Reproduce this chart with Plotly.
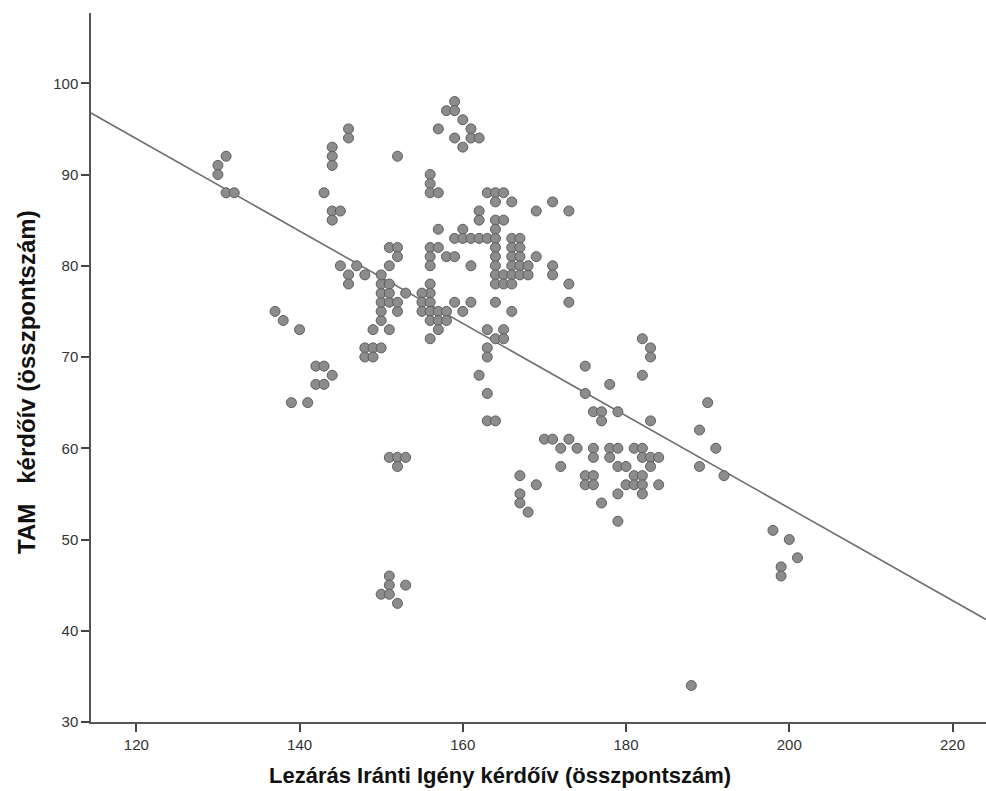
import plotly.graph_objects as go

# Data (x = Lezárás Iránti Igény, y = TAM)
x_vals = [
    130, 130, 131, 131, 132,
    137, 138, 140, 139, 141,
    142, 143, 144, 142, 143,
    143, 144, 145, 144,
    144, 144, 144, 146, 146,
    145, 147, 146, 148, 146,
    148, 149, 150, 148, 149,
    149, 151, 150,
    150, 152, 150, 151, 152, 150, 151, 153, 150, 151, 150, 151, 151, 152, 152,
    152,
    151, 152, 153, 152,
    151, 151, 150, 151, 153, 152,
    157, 159, 158, 159, 160, 161, 159, 161, 162, 160,
    156, 156, 156, 157,
    157, 160, 159, 160, 161, 162, 163,
    156, 157, 158, 159, 156, 156, 161,
    156, 156, 155, 155, 156, 155, 156, 157, 158, 156, 157, 158, 157, 156,
    159, 160, 161,
    163, 164, 165, 164, 166, 162, 162, 164, 165, 164,
    164, 166, 167, 164, 166, 167, 164, 166, 167, 164, 166, 167,
    164, 165, 166, 167, 168, 164, 165, 166,
    169, 168, 171, 171, 173, 173, 169, 171, 173,
    164, 166,
    163, 165, 164, 165, 163, 163, 162, 163, 163, 164,
    175, 175, 178, 176, 177, 177, 179, 182, 183, 183, 182, 183,
    190, 189, 191, 189, 192,
    170, 171, 173, 172, 174, 172,
    176, 178, 179, 181, 182,
    176, 178, 182, 183, 184,
    179, 180, 183,
    175, 176, 181, 182,
    175, 176, 180, 181, 182, 184,
    179, 182,
    177, 179,
    167, 169, 167, 167, 168,
    198, 200, 201, 199, 199, 188,
]
y_vals = [
    91, 90, 92, 88, 88,
    75, 74, 73, 65, 65,
    69, 69, 68, 67, 67,
    88, 86, 86, 85,
    93, 92, 91, 95, 94,
    80, 80, 79, 79, 78,
    71, 71, 71, 70, 70,
    73, 73, 74,
    75, 75, 76, 76, 76, 77, 77, 77, 78, 78, 79, 80, 82, 82, 81,
    92,
    59, 59, 59, 58,
    46, 45, 44, 44, 45, 43,
    95, 98, 97, 97, 96, 95, 94, 94, 94, 93,
    90, 89, 88, 88,
    84, 84, 83, 83, 83, 83, 83,
    82, 82, 81, 81, 81, 80, 80,
    78, 77, 77, 76, 76, 75, 75, 75, 75, 74, 74, 74, 73, 72,
    76, 75, 76,
    88, 88, 88, 87, 87, 86, 85, 85, 85, 84,
    83, 83, 83, 82, 82, 82, 81, 81, 81, 80, 80, 80,
    79, 79, 79, 79, 79, 78, 78, 78,
    81, 80, 80, 79, 78, 76, 86, 87, 86,
    76, 75,
    73, 73, 72, 72, 71, 70, 68, 66, 63, 63,
    69, 66, 67, 64, 64, 63, 64, 72, 71, 70, 68, 63,
    65, 62, 60, 58, 57,
    61, 61, 61, 60, 60, 58,
    60, 60, 60, 60, 60,
    59, 59, 59, 59, 59,
    58, 58, 58,
    57, 57, 57, 57,
    56, 56, 56, 56, 56, 56,
    55, 55,
    54, 52,
    57, 56, 55, 54, 53,
    51, 50, 48, 47, 46, 34,
]

# Regression line
fit_intercept = 154.69
fit_slope = -0.5063

x_range = [114.45, 224.1]
y_range = [30, 107.7]
x_ticks = [120, 140, 160, 180, 200, 220]
y_ticks = [30, 40, 50, 60, 70, 80, 90, 100]

x_title = "Lezárás Iránti Igény kérdőív (összpontszám)"
y_title = "TAM\u00a0\u00a0\u00a0kérdőív (összpontszám)"

fig = go.Figure()

fig.add_trace(go.Scatter(
    x=x_range,
    y=[fit_intercept + fit_slope * v for v in x_range],
    mode="lines",
    line=dict(color="#6e6e6e", width=1.6),
    hoverinfo="skip",
    showlegend=False,
))

fig.add_trace(go.Scatter(
    x=x_vals, y=y_vals,
    mode="markers",
    marker=dict(size=10, color="#8c8c8c", line=dict(color="#5e5e5e", width=1)),
    showlegend=False,
))

tick_font = dict(family="Liberation Sans, Arial, sans-serif", size=15, color="#333333")

fig.update_layout(
    width=986, height=791,
    margin=dict(l=91, r=0, t=13, b=69),
    paper_bgcolor="white",
    plot_bgcolor="white",
    xaxis=dict(
        range=x_range, tickvals=x_ticks, showgrid=False, zeroline=False,
        showline=True, linecolor="#555555", linewidth=1.5,
        ticks="outside", ticklen=8, tickwidth=1.5, tickcolor="#444444",
        tickfont=tick_font,
    ),
    yaxis=dict(
        range=y_range, tickvals=y_ticks, showgrid=False, zeroline=False,
        showline=True, linecolor="#555555", linewidth=1.5,
        ticks="outside", ticklen=8, tickwidth=1.5, tickcolor="#444444",
        tickfont=tick_font,
    ),
    annotations=[
        dict(text="<b>" + x_title + "</b>", xref="paper", yref="paper",
             x=0.457, y=-0.075, xanchor="center", yanchor="middle", showarrow=False,
             font=dict(family="Liberation Sans, Arial, sans-serif", size=22, color="#111111")),
        dict(text="<b>" + y_title + "</b>", xref="paper", yref="paper",
             x=-0.072, y=0.479, xanchor="center", yanchor="middle", showarrow=False,
             textangle=-90,
             font=dict(family="Liberation Sans, Arial, sans-serif", size=24, color="#111111")),
    ],
)

fig.write_html(
    "out.html",
    config={"displayModeBar": False},
    post_script="document.body.style.margin='0';document.body.style.overflow='hidden';",
)
